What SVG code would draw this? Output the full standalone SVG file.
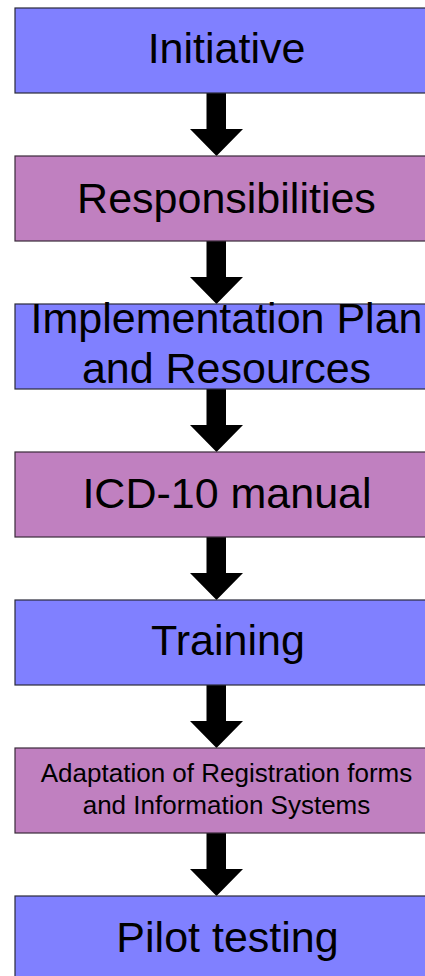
<svg xmlns="http://www.w3.org/2000/svg" width="425" height="976" viewBox="0 0 425 976">
<style>
.b{fill:#8080FF;stroke:#2a2a3a;stroke-width:1.2}
.p{fill:#C080C0;stroke:#3a2a3a;stroke-width:1.2}
.t{font-family:"Liberation Sans",Arial,sans-serif;font-size:43px;fill:#000;text-anchor:middle}
.s{font-family:"Liberation Sans",Arial,sans-serif;font-size:26px;fill:#000;text-anchor:middle}
.a{fill:#000}
</style>
<defs>
<path id="arr" d="M-10,0 H9.5 V36 H26.5 L0,63 L-26.5,36 H-10 Z"/>
</defs>
<rect width="425" height="976" fill="#fff"/>
<g id="connectors">
<use href="#arr" class="a" x="216.5" y="93"/>
<use href="#arr" class="a" x="216.5" y="241"/>
<use href="#arr" class="a" x="216.5" y="389"/>
<use href="#arr" class="a" x="216.5" y="537"/>
<use href="#arr" class="a" x="216.5" y="685"/>
<use href="#arr" class="a" x="216.5" y="833"/>
</g>
<g id="n1"><rect class="b" x="15" y="8" width="430" height="85"/><text class="t" x="226.5" y="63">Initiative</text></g>
<g id="n2"><rect class="p" x="15" y="156" width="430" height="85"/><text class="t" x="226.5" y="212.5">Responsibilities</text></g>
<g id="n3"><rect class="b" x="15" y="304" width="430" height="85"/><text class="t" x="226.5" y="333">Implementation Plan</text><text class="t" x="226.5" y="383">and Resources</text></g>
<g id="n4"><rect class="p" x="15" y="452" width="430" height="85"/><text class="t" x="227" y="508">ICD-10 manual</text></g>
<g id="n5"><rect class="b" x="15" y="600" width="430" height="85"/><text class="t" x="228" y="655">Training</text></g>
<g id="n6"><rect class="p" x="15" y="748" width="430" height="85"/><text class="s" x="226.5" y="782">Adaptation of Registration forms</text><text class="s" x="226.5" y="813.5">and Information Systems</text></g>
<g id="n7"><rect class="b" x="15" y="896" width="430" height="85"/><text class="t" x="227.5" y="952">Pilot testing</text></g>
</svg>
